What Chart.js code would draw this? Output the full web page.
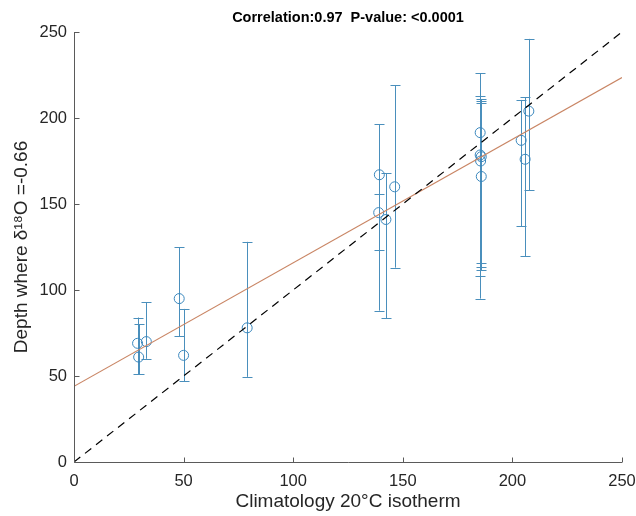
<!DOCTYPE html>
<html>
<head>
<meta charset="utf-8">
<script src="https://cdn.jsdelivr.net/npm/chart.js@4"></script>
<style>
 html, body { margin: 0; padding: 0; background: #fff; }
 #wrap { width: 636px; height: 516px; }
</style>
</head>
<body>
<div id="wrap"><canvas id="corrChart" width="636" height="516"></canvas></div>
<script>
// climatology 20C isotherm depth (x) vs depth where d18O = -0.66 (y)
const climX = [29, 29.5, 33, 48, 50, 79, 139, 139.3, 142.3, 146.3, 185.3, 185.3, 185.8, 185.5, 185.8, 204, 205.8, 207.5];
const depthY = [69, 61, 70, 95, 62, 78, 145, 167, 141, 160, 191.5, 178.5, 177.5, 175, 166, 187, 176, 204];
const errLow = [51, 51, 60, 73, 47, 49.5, 88, 123, 83.5, 113, 108, 95, 111.5, 113.5, 115.5, 137, 119.5, 158];
const errHigh = [84, 80, 93, 125, 89, 128, 156, 196.5, 168, 219, 226, 213, 211, 209, 210, 210.5, 212, 246];

// regression fit and 1:1 line end points
const fitX = [0, 250];
const fitY = [44, 223.5];
const oneToOne = [0, 250];

const axisTicks = [0, 50, 100, 150, 200, 250];
const titleText = "Correlation:0.97  P-value: <0.0001";

const errorBarPlugin = {
 id: "errorBars",
 beforeDatasetsDraw(chart) {
  const ctx = chart.ctx;
  const xs = chart.scales.x;
  const ys = chart.scales.y;
  ctx.save();
  ctx.strokeStyle = "#4a8fbc";
  ctx.lineWidth = 1;
  for (let i = 0; i < climX.length; i++) {
   const px = Math.round(xs.getPixelForValue(climX[i])) + 0.5;
   const lo = ys.getPixelForValue(errLow[i]);
   const hi = ys.getPixelForValue(errHigh[i]);
   ctx.beginPath();
   ctx.moveTo(px, lo);
   ctx.lineTo(px, hi);
   ctx.moveTo(px - 5, Math.round(lo) + 0.5);
   ctx.lineTo(px + 5, Math.round(lo) + 0.5);
   ctx.moveTo(px - 5, Math.round(hi) + 0.5);
   ctx.lineTo(px + 5, Math.round(hi) + 0.5);
   ctx.stroke();
  }
  ctx.restore();
 },
};

const axesPlugin = {
 id: "matlabAxes",
 afterDraw(chart) {
  const ctx = chart.ctx;
  const xs = chart.scales.x;
  const ys = chart.scales.y;
  const area = chart.chartArea;
  ctx.save();
  ctx.strokeStyle = "#5a5a5a";
  ctx.lineWidth = 1;
  const left = Math.round(area.left) + 0.5;
  const bottom = Math.round(area.bottom) + 0.5;
  ctx.beginPath();
  ctx.moveTo(left, area.top);
  ctx.lineTo(left, bottom);
  ctx.lineTo(area.right, bottom);
  axisTicks.forEach((t) => {
   const ty = Math.round(ys.getPixelForValue(t)) + 0.5;
   ctx.moveTo(left, ty);
   ctx.lineTo(left + 5, ty);
   const tx = Math.round(xs.getPixelForValue(t)) + 0.5;
   ctx.moveTo(tx, bottom);
   ctx.lineTo(tx, bottom - 5);
  });
  ctx.stroke();

  ctx.fillStyle = "#000";
  ctx.font = "bold 14.5px 'Liberation Sans', Arial, sans-serif";
  ctx.textAlign = "center";
  ctx.textBaseline = "middle";
  ctx.fillText(titleText, (area.left + area.right) / 2, 17.5);
  ctx.restore();
 },
};

const tickFont = { family: "'Liberation Sans', Arial, sans-serif", size: 16.5 };
const labelFont = { family: "'Liberation Sans', Arial, sans-serif", size: 19 };

new Chart(document.getElementById("corrChart").getContext("2d"), {
 type: "scatter",
 data: {
  datasets: [
   {
    label: "1:1",
    type: "line",
    data: oneToOne.map((v) => ({ x: v, y: v })),
    borderColor: "#000",
    borderWidth: 1.2,
    borderDash: [8, 6],
    pointRadius: 0,
    fill: false,
   },
   {
    label: "Fit",
    type: "line",
    data: fitX.map((v, i) => ({ x: v, y: fitY[i] })),
    borderColor: "#c98564",
    borderWidth: 1.2,
    pointRadius: 0,
    fill: false,
   },
   {
    label: "Depth",
    data: climX.map((v, i) => ({ x: v, y: depthY[i] })),
    pointStyle: "circle",
    pointRadius: 5,
    pointBorderWidth: 1,
    borderColor: "#3a87bd",
    backgroundColor: "rgba(0,0,0,0)",
   },
  ],
 },
 options: {
  responsive: false,
  animation: false,
  events: [],
  layout: { padding: { top: 32, right: 14, left: 0, bottom: 0 } },
  plugins: {
   legend: { display: false },
   tooltip: { enabled: false },
   title: { display: false },
  },
  scales: {
   x: {
    type: "linear",
    min: 0,
    max: 250,
    grid: { display: false, drawTicks: false },
    border: { display: false },
    ticks: { stepSize: 50, color: "#262626", font: tickFont, padding: 10, maxRotation: 0 },
    title: {
     display: true,
     text: "Climatology 20°C isotherm",
     color: "#262626",
     font: labelFont,
     padding: { top: 0, bottom: 3 },
    },
    afterFit(scale) {
     scale.height = 54;
     scale.paddingLeft = 0;
     scale.paddingRight = 0;
    },
   },
   y: {
    type: "linear",
    min: 0,
    max: 250,
    grid: { display: false, drawTicks: false },
    border: { display: false },
    ticks: { stepSize: 50, color: "#262626", font: tickFont, padding: 7 },
    title: {
     display: true,
     text: "Depth where δ¹⁸O =-0.66",
     color: "#262626",
     font: labelFont,
     padding: { top: 10, bottom: 0 },
    },
    afterFit(scale) {
     scale.width = 74;
     scale.paddingTop = 0;
     scale.paddingBottom = 0;
    },
   },
  },
 },
 plugins: [errorBarPlugin, axesPlugin],
});
</script>
</body>
</html>
